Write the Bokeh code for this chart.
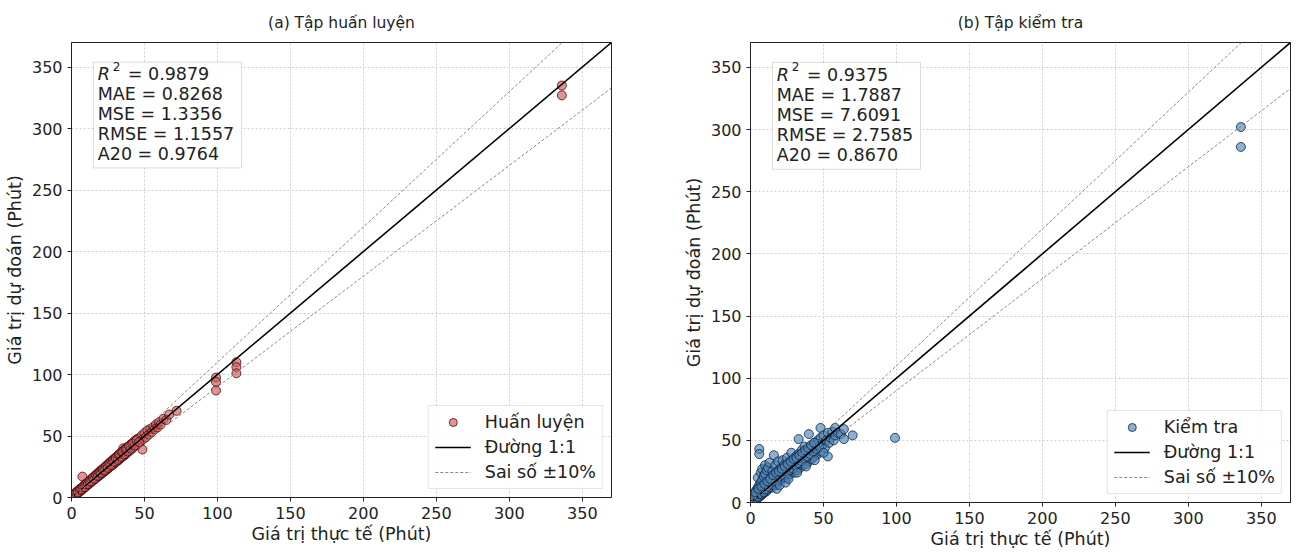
from bokeh.plotting import figure
from bokeh.layouts import row
from bokeh.models import Label, BoxAnnotation, Legend, LegendItem, Range1d, FixedTicker
from bokeh.embed import file_html
from bokeh.resources import INLINE

# ---------------- data ----------------
axis_max = 370
ticks = [0, 50, 100, 150, 200, 250, 300, 350]

train_actual = [0.5, 1, 1.5, 2, 2, 3, 3, 3.5, 4, 4, 5, 5, 5.5, 6, 6, 7, 7, 7.5, 8, 8, 9, 9, 9.5, 10, 10,
                11, 11, 12, 12, 12.5, 13, 13, 14, 14, 15, 15, 15.5, 16, 16, 17, 17, 18, 18, 19, 19, 20, 20,
                21, 21, 22, 22, 23, 23, 24, 24, 25, 25, 26, 26, 27, 27, 28, 28, 29, 29, 30, 30, 31, 31,
                32, 32, 33, 33, 34, 34, 35, 35, 35.5, 36, 36, 37, 37, 38, 38, 39, 40, 40, 41, 42, 42, 43,
                44, 45, 45, 46, 47, 48, 48.6, 49, 50, 51, 52, 53, 54, 55, 56, 57, 58, 59, 60, 61, 63, 65,
                67, 72, 2.5, 4.5, 6.5, 8.5, 10.5, 13.5, 16.5, 18.5, 20.5, 22.5, 24.5, 26.5, 28.5, 30.5,
                1.2, 2.2, 3.3, 4.4, 5.6, 6.7, 7.8, 8.9, 10.1, 11.3, 12.4, 13.6, 14.7, 15.8, 16.9, 18.1,
                19.2, 20.3, 21.4, 22.6, 23.7, 24.8, 25.9, 27.1, 28.2, 29.3, 30.4, 31.6, 32.7, 33.8, 34.9,
                36.1, 37.2, 38.3, 39.4, 40.6, 41.7, 43.1, 44.6, 46.3,
                99, 99, 99, 113, 113, 113, 336, 336]
train_pred = [1.0, 0.6, 2.2, 1.4, 2.8, 3.5, 2.4, 4.6, 3.2, 5.0, 5.8, 4.1, 6.6, 5.2, 7.1, 7.8, 6.0, 17.0, 8.9, 7.1,
              10.2, 8.0, 9.0, 11.3, 9.1, 12.0, 10.2, 13.4, 11.0, 12.1, 14.2, 12.0, 15.6, 13.1, 16.2, 14.0,
              15.0, 17.8, 14.9, 18.4, 16.0, 19.9, 16.8, 20.5, 17.9, 22.0, 18.6, 22.8, 19.7, 23.6, 20.8,
              25.0, 21.5, 26.1, 22.6, 26.8, 23.4, 28.3, 24.7, 29.0, 25.5, 30.2, 26.4, 31.3, 27.2, 32.0,
              28.4, 33.4, 29.6, 34.6, 30.1, 35.2, 31.4, 36.8, 32.2, 37.3, 33.6, 40.0, 38.6, 34.0, 39.5,
              35.2, 40.8, 36.1, 41.2, 42.6, 38.0, 43.5, 44.1, 40.2, 45.8, 42.3, 47.6, 43.0, 48.1, 45.2,
              50.2, 39.0, 47.3, 52.4, 49.0, 54.6, 51.2, 55.8, 53.1, 57.4, 55.6, 59.5, 57.0, 61.2, 59.3,
              64.0, 63.1, 67.5, 70.5, 2.9, 4.2, 7.0, 8.2, 11.2, 13.0, 17.5, 18.0, 21.8, 21.4, 25.8, 25.6,
              30.5, 29.4,
              1.6, 2.0, 3.9, 4.1, 6.3, 6.4, 8.6, 8.4, 10.9, 11.0, 13.2, 13.1, 15.9, 15.1, 18.0, 17.6,
              20.1, 19.8, 22.5, 22.0, 25.1, 24.1, 27.3, 26.2, 29.6, 28.8, 31.9, 30.7, 34.5, 33.0, 36.8,
              35.2, 38.9, 37.6, 41.5, 39.7, 43.6, 42.2, 46.5, 45.0,
              97.5, 94.0, 87.0, 110.0, 106.0, 101.0, 335.0, 327.0]

test_actual = [0.5, 1, 1, 1.5, 2, 2, 2.5, 3, 3, 3.5, 4, 4, 4.5, 5, 5, 5, 5.5, 6, 6, 6, 6, 6.5, 7, 7, 7,
               7.5, 8, 8, 8, 8.5, 9, 9, 9.5, 10, 10, 10, 11, 11, 11, 12, 12, 12, 13, 13, 13, 14, 14, 15,
               15, 15, 16, 16, 16, 17, 17, 17, 18, 18, 19, 19, 19, 20, 20, 21, 21, 22, 22, 22, 23, 23,
               24, 24, 25, 25, 25, 26, 26, 27, 27, 28, 28, 28, 29, 29, 30, 30, 31, 31, 32, 32, 33, 33,
               33, 34, 34, 35, 35, 36, 36, 37, 37, 38, 38, 39, 40, 40, 40, 41, 42, 42, 43, 44, 44, 45,
               46, 46, 47, 48, 48, 48, 49, 50, 50, 51, 52, 53, 53, 54, 55, 56, 57, 58, 58, 60, 62, 64,
               64, 70,
               2, 3, 4, 5, 6, 7, 8, 9, 10, 11, 12, 13, 14, 15, 16, 17, 18, 19, 20, 21, 22, 23, 24, 25,
               26, 27, 28, 29, 30, 31, 32, 33, 34, 35, 36, 37, 38, 39, 40, 41, 42, 43, 44, 45, 46, 47,
               1.5, 3.5, 5.5, 7.5, 9.5, 11.5, 13.5, 15.5, 17.5, 19.5, 21.5, 23.5, 25.5, 27.5, 29.5,
               31.5, 33.5, 35.5, 37.5, 39.5, 41.5, 43.5,
               18, 20, 24, 26, 32, 38, 44, 50,
               99, 336, 336]
test_pred = [2, 0.5, 4, 1.2, 3, 6, 1.5, 4.5, 8, 2.5, 5.5, 10, 3, 6.5, 12, 20, 4, 7.5, 14, 43, 39, 5, 9,
             16, 24, 6, 10, 18, 27, 7, 12, 21, 8, 13, 23, 30, 9, 15, 26, 11, 16, 28, 12, 18, 32, 13, 20,
             12, 17, 25, 38, 15, 21, 14, 23, 30, 16, 22, 18, 26, 33, 17, 23, 20, 28, 19, 26, 34, 22, 30,
             21, 28, 20, 27, 36, 24, 31, 23, 33, 25, 30, 40, 27, 34, 24, 32, 28, 37, 26, 34, 30, 51, 39,
             28, 36, 32, 42, 30, 38, 34, 45, 31, 40, 36, 33, 42, 55, 38, 35, 45, 40, 37, 48, 42, 39, 50,
             44, 41, 60, 52, 46, 47, 54, 44, 50, 37, 56, 48, 52, 57, 50, 60, 54, 56, 55, 59, 51, 54,
             2.5, 3.2, 5, 4.6, 7, 6.8, 9.4, 8.2, 11, 10.5, 13.6, 12.4, 15.8, 14.1, 17.5, 16.2, 19.9,
             18.5, 22, 19.4, 24.1, 21.7, 25.5, 23.8, 27.9, 26.1, 30.2, 27.4, 32.4, 29.8, 34.1, 31.6,
             35.8, 33.2, 37.9, 35.6, 39.5, 37.1, 41.8, 38.7, 43.5, 41.2, 45.6, 43.1, 47.2, 45.3,
             5, 8, 11, 13, 15, 17, 19, 22, 24, 25, 27, 29, 31, 33, 35, 36, 38, 40, 42, 44, 46, 48,
             11, 14, 16, 19, 24, 29, 34, 40,
             52, 302, 286]

stats_train = ["MAE = 0.8268", "MSE = 1.3356", "RMSE = 1.1557", "A20 = 0.9764"]
r2_train = "= 0.9879"
stats_test = ["MAE = 1.7887", "MSE = 7.6091", "RMSE = 2.7585", "A20 = 0.8670"]
r2_test = "= 0.9375"

FONT = "DejaVu Sans"


def make(title, actual, pred, fill, edge, label, r2_txt, stats, borders, fh):
    bl, br, bt, bb = borders
    p = figure(frame_width=540, frame_height=fh,
               x_range=Range1d(0, axis_max), y_range=Range1d(0, axis_max),
               output_backend="svg", toolbar_location=None,
               min_border_left=bl, min_border_right=br, min_border_top=bt, min_border_bottom=bb)
    p.title.text = title
    p.title.align = "center"
    p.title.standoff = 21
    p.title.text_font = FONT
    p.title.text_font_size = "15.5px"
    p.title.text_font_style = "normal"
    p.title.text_color = "#222222"
    p.outline_line_color = "#222222"
    p.outline_line_width = 1
    for ax in (p.xaxis[0], p.yaxis[0]):
        ax.ticker = FixedTicker(ticks=ticks)
        ax.minor_tick_line_color = None
        ax.major_tick_out = 4
        ax.major_tick_in = 0
        ax.axis_line_color = "#222222"
        ax.major_tick_line_color = "#222222"
        ax.major_label_text_font = FONT
        ax.major_label_text_font_size = "16px"
        ax.major_label_text_color = "#222222"
        ax.axis_label_text_font = FONT
        ax.axis_label_text_font_size = "17.5px"
        ax.axis_label_text_font_style = "normal"
        ax.axis_label_text_color = "#222222"
    p.xaxis.axis_label = "Giá trị thực tế (Phút)"
    p.yaxis.axis_label = "Giá trị dự đoán (Phút)"
    p.xaxis.axis_label_standoff = 2
    p.yaxis.axis_label_standoff = 4
    p.grid.grid_line_color = "#cfcfcf"
    p.grid.grid_line_dash = "2 2"
    p.grid.grid_line_width = 1

    sc = p.scatter(actual, pred, size=9, fill_color=fill, fill_alpha=0.65,
                   line_color=edge, line_alpha=0.8, line_width=1)
    l1 = p.line([0, axis_max], [0, axis_max], line_color="black", line_width=1.6)
    l2 = p.line([0, axis_max], [0, 1.1 * axis_max], line_color="#888888", line_width=1, line_dash="3 2")
    p.line([0, axis_max], [0, 0.9 * axis_max], line_color="#888888", line_width=1, line_dash="3 2")

    leg = Legend(items=[LegendItem(label=label, renderers=[sc]),
                        LegendItem(label="Đường 1:1", renderers=[l1]),
                        LegendItem(label="Sai số ±10%", renderers=[l2])],
                 location="bottom_right")
    leg.label_text_font = FONT
    leg.label_text_font_size = "17.5px"
    leg.label_text_color = "#222222"
    leg.border_line_color = "#cccccc"
    leg.background_fill_alpha = 0.85
    leg.glyph_width = 36
    leg.glyph_height = 20
    leg.label_standoff = 14
    leg.spacing = 5
    leg.padding = 6
    leg.margin = 8
    p.add_layout(leg)

    box = BoxAnnotation(left=15, right=116.5, bottom=268, top=354,
                        fill_color="white", fill_alpha=0.85,
                        line_color="#888888", line_width=1)
    p.add_layout(box)
    common = dict(text_font=FONT, text_color="#222222", text_align="left", text_baseline="alphabetic")
    by = 344
    p.add_layout(Label(x=18, y=by, text="R", text_font_size="17.5px", text_font_style="italic", **common))
    p.add_layout(Label(x=18, y=by, x_offset=15, y_offset=8, text="2", text_font_size="12px", **common))
    p.add_layout(Label(x=18, y=by, x_offset=30, text=r2_txt, text_font_size="17.5px", **common))
    for i, s in enumerate(stats):
        p.add_layout(Label(x=18, y=by, y_offset=-20 * (i + 1), text=s, text_font_size="17.5px", **common))
    return p


p1 = make("(a) Tập huấn luyện", train_actual, train_pred, "#cd5c5c", "#4a0a0a", "Huấn luyện",
          r2_train, stats_train, (71, 37, 41, 56), 455)
p2 = make("(b) Tập kiểm tra", test_actual, test_pred, "#4f86b8", "#0c2440", "Kiểm tra",
          r2_test, stats_test, (102, 6, 42, 50), 460)

layout = row(p1, p2)
open("out.html", "w").write(file_html(layout, INLINE))
